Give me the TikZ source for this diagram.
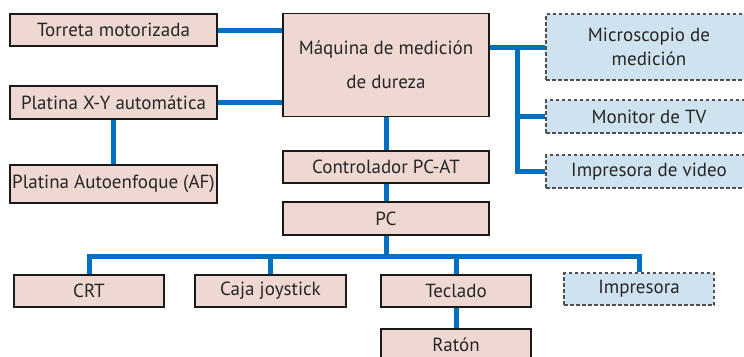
\documentclass[tikz,border=0pt]{standalone}
\usepackage{fontspec}
\setmainfont{PT Sans}
\definecolor{pinkfill}{HTML}{EED8D1}
\definecolor{bluefill}{HTML}{CFE2F0}
\definecolor{linkblue}{HTML}{0070C0}
\definecolor{edge}{HTML}{1A1A1A}
\definecolor{dashedge}{HTML}{505050}
\tikzset{
  box/.style={draw=edge, line width=1.2pt, fill=pinkfill, rectangle, inner sep=0pt, font=\fontsize{19}{22}\selectfont, text=black!85},
  dbox/.style={draw=dashedge, line width=1.1pt, dash pattern=on 3.5pt off 2.5pt, fill=bluefill, rectangle, inner sep=0pt, font=\fontsize{19}{22}\selectfont, text=black!85},
  link/.style={draw=linkblue, line width=5pt}
}
\begin{document}
\begin{tikzpicture}[x=1pt,y=-1pt]
\useasboundingbox (0,0) rectangle (744,356);
\clip (0,0) rectangle (744,356);
\fill[white] (0,0) rectangle (744,356);
% nodes
\node[box, minimum width=207pt, minimum height=32pt] (tor) at (113.5,30) {Torreta motorizada};
\node[box, minimum width=207pt, minimum height=33pt] (pxy) at (113.5,102.5) {Platina X-Y automática};
\node[box, minimum width=207pt, minimum height=38pt] (paf) at (113.5,184) {Platina Autoenfoque (AF)};
\node[box, minimum width=206pt, minimum height=103pt, align=center, font=\fontsize{19}{34}\selectfont] (maq) at (386,65) {Máquina de medición\\de dureza};
\node[box, minimum width=206pt, minimum height=32pt] (ctl) at (386,167) {Controlador PC-AT};
\node[box, minimum width=206pt, minimum height=33pt] (pc) at (386,218.5) {PC};
\node[box, minimum width=150pt, minimum height=32pt] (crt) at (89,291) {CRT};
\node[box, minimum width=151pt, minimum height=32pt] (joy) at (270.5,291) {Caja joystick};
\node[box, minimum width=150pt, minimum height=32pt] (tec) at (456,291) {Teclado};
\node[dbox, minimum width=150pt, minimum height=32pt] (imp) at (639,289) {Impresora};
\node[box, minimum width=150pt, minimum height=32pt] (rat) at (456,345) {Ratón};
\node[dbox, minimum width=206pt, minimum height=66pt, align=center, font=\fontsize{19}{24}\selectfont] (mic) at (649,47) {Microscopio de\\medición};
\node[dbox, minimum width=206pt, minimum height=33pt] (mon) at (649,116.5) {Monitor de TV};
\node[dbox, minimum width=206pt, minimum height=33pt] (ivd) at (649,171.5) {Impresora de video};
\coordinate (bus) at (386,256);
\coordinate (trunk) at (517,47);
% connectors
\path[link] (tor.east) -- (tor.east -| maq.west);
\path[link] (pxy.east) -- (pxy.east -| maq.west);
\path[link] (pxy.south) -- (paf.north);
\path[link] (maq.south) -- (ctl.north);
\path[link] (ctl.south) -- (pc.north);
\path[link] (pc.south) -- (bus);
\path[link] (crt.north) |- (bus) -| (imp.north);
\path[link] (joy.north) -- (joy.north |- bus);
\path[link] (tec.north) -- (tec.north |- bus);
\path[link] (tec.south) -- (rat.north);
\path[link] (maq.east |- mic.west) -- (mic.west);
\path[link] (trunk) |- (ivd.west);
\path[link] (trunk |- mon.west) -- (mon.west);
\end{tikzpicture}
\end{document}
